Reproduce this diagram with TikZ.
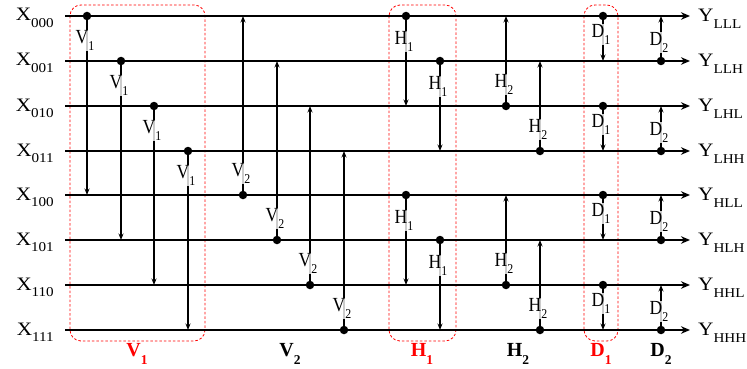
\documentclass[tikz,border=0pt]{standalone}
\usepackage{fontspec}
\setmainfont{Liberation Serif}
\newfontfamily\iofont[FakeStretch=1.12]{Liberation Serif}
\newfontfamily\tagfont[FakeStretch=0.88]{Liberation Serif}
\usetikzlibrary{arrows.meta,positioning}
\newcommand{\lsub}[1]{\raisebox{-0.36em}{\fontsize{13.5}{14}\selectfont #1}}

\begin{document}
\begin{tikzpicture}[
		x=1pt, y=-1pt,
		>={Stealth[length=6.5pt,width=5pt]},
		wire/.style={draw, line width=2pt, -{Stealth[length=9pt,width=7.5pt]}},
		link/.style={draw, line width=1.7pt, ->},
		dot/.style={circle, fill, inner sep=0pt, minimum size=8.5pt},
		tag/.style={font=\tagfont\fontsize{20}{21}\selectfont, fill=white, fill opacity=0.8, text opacity=1, inner sep=0.5pt, xshift=-2pt},
		io/.style={font=\iofont\fontsize{19}{20}\selectfont, inner sep=0pt},
		stage/.style={font=\fontsize{20}{21}\selectfont\bfseries},
		grp/.style={draw=red, dashed, line width=0.8pt, dash pattern=on 2.5pt off 2pt, rounded corners=11pt}
		]
		\useasboundingbox (0,0) rectangle (747,369);
		
		% rows: start / end of each line
		\coordinate (r0) at (65,16);  \coordinate (e0) at (690,16);
		\coordinate (r1) at (65,61);  \coordinate (e1) at (690,61);
		\coordinate (r2) at (65,106); \coordinate (e2) at (690,106);
		\coordinate (r3) at (65,151); \coordinate (e3) at (690,151);
		\coordinate (r4) at (65,195); \coordinate (e4) at (690,195);
		\coordinate (r5) at (65,240); \coordinate (e5) at (690,240);
		\coordinate (r6) at (65,285); \coordinate (e6) at (690,285);
		\coordinate (r7) at (65,330); \coordinate (e7) at (690,330);
		
		% groups (drawn first, under the lines)
		\draw[grp] (70,5) rectangle (205,341);
		\draw[grp] (389,5) rectangle (456,341);
		\draw[grp] (584,5) rectangle (618,341);
		
		\draw[wire] (r0) -- (e0);
		\draw[wire] (r1) -- (e1);
		\draw[wire] (r2) -- (e2);
		\draw[wire] (r3) -- (e3);
		\draw[wire] (r4) -- (e4);
		\draw[wire] (r5) -- (e5);
		\draw[wire] (r6) -- (e6);
		\draw[wire] (r7) -- (e7);
		
		% inputs and outputs
		\node[io, anchor=base east] (x000) at ([xshift=-11pt,yshift=-5pt]r0) {X\lsub{000}};
		\node[io, anchor=base east] (x001) at ([xshift=-11pt,yshift=-5pt]r1) {X\lsub{001}};
		\node[io, anchor=base east] (x010) at ([xshift=-11pt,yshift=-5pt]r2) {X\lsub{010}};
		\node[io, anchor=base east] (x011) at ([xshift=-11pt,yshift=-5pt]r3) {X\lsub{011}};
		\node[io, anchor=base east] (x100) at ([xshift=-11pt,yshift=-5pt]r4) {X\lsub{100}};
		\node[io, anchor=base east] (x101) at ([xshift=-11pt,yshift=-5pt]r5) {X\lsub{101}};
		\node[io, anchor=base east] (x110) at ([xshift=-11pt,yshift=-5pt]r6) {X\lsub{110}};
		\node[io, anchor=base east] (x111) at ([xshift=-11pt,yshift=-5pt]r7) {X\lsub{111}};
		\node[io, anchor=base west] (ylll) at ([xshift=8pt,yshift=-5.5pt]e0) {Y\lsub{LLL}};
		\node[io, anchor=base west] (yllh) at ([xshift=8pt,yshift=-5.5pt]e1) {Y\lsub{LLH}};
		\node[io, anchor=base west] (ylhl) at ([xshift=8pt,yshift=-5.5pt]e2) {Y\lsub{LHL}};
		\node[io, anchor=base west] (ylhh) at ([xshift=8pt,yshift=-5.5pt]e3) {Y\lsub{LHH}};
		\node[io, anchor=base west] (yhll) at ([xshift=8pt,yshift=-5.5pt]e4) {Y\lsub{HLL}};
		\node[io, anchor=base west] (yhlh) at ([xshift=8pt,yshift=-5.5pt]e5) {Y\lsub{HLH}};
		\node[io, anchor=base west] (yhhl) at ([xshift=8pt,yshift=-5.5pt]e6) {Y\lsub{HHL}};
		\node[io, anchor=base west] (yhhh) at ([xshift=8pt,yshift=-5.5pt]e7) {Y\lsub{HHH}};
		
		% V1 : down by four rows
		\node[dot] (v1a) at (87,16) {};   \draw[link] (v1a) -- (v1a |- r4); \node[tag, below=9pt of v1a] (tv1a) {V\lsub{1}};
		\node[dot] (v1b) at (121,61) {};  \draw[link] (v1b) -- (v1b |- r5); \node[tag, below=9pt of v1b] (tv1b) {V\lsub{1}};
		\node[dot] (v1c) at (154,106) {}; \draw[link] (v1c) -- (v1c |- r6); \node[tag, below=9pt of v1c] (tv1c) {V\lsub{1}};
		\node[dot] (v1d) at (188,151) {}; \draw[link] (v1d) -- (v1d |- r7); \node[tag, below=9pt of v1d] (tv1d) {V\lsub{1}};
		
		% V2 : up by four rows
		\node[dot] (v2a) at (243,195) {}; \draw[link] (v2a) -- (v2a |- r0); \node[tag, above=6pt of v2a] (tv2a) {V\lsub{2}};
		\node[dot] (v2b) at (277,240) {}; \draw[link] (v2b) -- (v2b |- r1); \node[tag, above=6pt of v2b] (tv2b) {V\lsub{2}};
		\node[dot] (v2c) at (310,285) {}; \draw[link] (v2c) -- (v2c |- r2); \node[tag, above=6pt of v2c] (tv2c) {V\lsub{2}};
		\node[dot] (v2d) at (344,330) {}; \draw[link] (v2d) -- (v2d |- r3); \node[tag, above=6pt of v2d] (tv2d) {V\lsub{2}};
		
		% H1 : down by two rows
		\node[dot] (h1a) at (406,16) {};  \draw[link] (h1a) -- (h1a |- r2); \node[tag, below=10pt of h1a] (th1a) {H\lsub{1}};
		\node[dot] (h1b) at (440,61) {};  \draw[link] (h1b) -- (h1b |- r3); \node[tag, below=10pt of h1b] (th1b) {H\lsub{1}};
		\node[dot] (h1c) at (406,195) {}; \draw[link] (h1c) -- (h1c |- r6); \node[tag, below=10pt of h1c] (th1c) {H\lsub{1}};
		\node[dot] (h1d) at (440,240) {}; \draw[link] (h1d) -- (h1d |- r7); \node[tag, below=10pt of h1d] (th1d) {H\lsub{1}};
		
		% H2 : up by two rows
		\node[dot] (h2a) at (506,106) {}; \draw[link] (h2a) -- (h2a |- r0); \node[tag, above=6pt of h2a] (th2a) {H\lsub{2}};
		\node[dot] (h2b) at (540,151) {}; \draw[link] (h2b) -- (h2b |- r1); \node[tag, above=6pt of h2b] (th2b) {H\lsub{2}};
		\node[dot] (h2c) at (506,285) {}; \draw[link] (h2c) -- (h2c |- r4); \node[tag, above=6pt of h2c] (th2c) {H\lsub{2}};
		\node[dot] (h2d) at (540,330) {}; \draw[link] (h2d) -- (h2d |- r5); \node[tag, above=6pt of h2d] (th2d) {H\lsub{2}};
		
		% D1 : down by one row
		\node[dot] (d1a) at (603,16) {};  \draw[link] (d1a) -- (d1a |- r1); \node[tag, below=3.5pt of d1a] (td1a) {D\lsub{1}};
		\node[dot] (d1b) at (603,106) {}; \draw[link] (d1b) -- (d1b |- r3); \node[tag, below=3.5pt of d1b] (td1b) {D\lsub{1}};
		\node[dot] (d1c) at (603,195) {}; \draw[link] (d1c) -- (d1c |- r5); \node[tag, below=3.5pt of d1c] (td1c) {D\lsub{1}};
		\node[dot] (d1d) at (603,285) {}; \draw[link] (d1d) -- (d1d |- r7); \node[tag, below=3.5pt of d1d] (td1d) {D\lsub{1}};
		
		% D2 : up by one row
		\node[dot] (d2a) at (661,61) {};  \draw[link] (d2a) -- (d2a |- r0); \node[tag, above=3.5pt of d2a] (td2a) {D\lsub{2}};
		\node[dot] (d2b) at (661,151) {}; \draw[link] (d2b) -- (d2b |- r2); \node[tag, above=3.5pt of d2b] (td2b) {D\lsub{2}};
		\node[dot] (d2c) at (661,240) {}; \draw[link] (d2c) -- (d2c |- r4); \node[tag, above=3.5pt of d2c] (td2c) {D\lsub{2}};
		\node[dot] (d2d) at (661,330) {}; \draw[link] (d2d) -- (d2d |- r6); \node[tag, above=3.5pt of d2d] (td2d) {D\lsub{2}};
		
		% stage names
		\node[stage, red] (sv1) at (137,354) {V\lsub{1}};
		\node[stage]      (sv2) at (290,354) {V\lsub{2}};
		\node[stage, red] (sh1) at (422,354) {H\lsub{1}};
		\node[stage]      (sh2) at (518,354) {H\lsub{2}};
		\node[stage, red] (sd1) at (601,354) {D\lsub{1}};
		\node[stage]      (sd2) at (661,354) {D\lsub{2}};
\end{tikzpicture}
\end{document}
